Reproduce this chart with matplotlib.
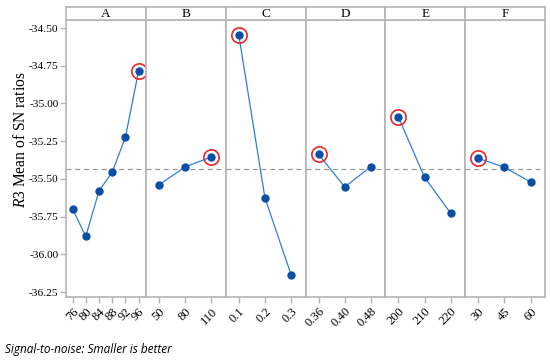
import matplotlib
matplotlib.use("Agg")
import matplotlib.pyplot as plt
import numpy as np

# ---------------------------------------------------------------------------
# Data
# ---------------------------------------------------------------------------
FACTORS = ["A", "B", "C", "D", "E", "F"]
LEVELS = {
    "A": ["76", "80", "84", "88", "92", "96"],
    "B": ["50", "80", "110"],
    "C": ["0.1", "0.2", "0.3"],
    "D": ["0.36", "0.40", "0.48"],
    "E": ["200", "210", "220"],
    "F": ["30", "45", "60"],
}
SN_A = [-35.70, -35.88, -35.58, -35.455, -35.225, -34.785]
SN_B = [-35.54, -35.42, -35.355]
SN_C = [-34.545, -35.625, -36.135]
SN_D = [-35.337, -35.553, -35.418]
SN_E = [-35.09, -35.49, -35.728]
SN_F = [-35.363, -35.423, -35.52]
VALUES = {"A": SN_A, "B": SN_B, "C": SN_C, "D": SN_D, "E": SN_E, "F": SN_F}
Y_TICKS = [-34.50, -34.75, -35.00, -35.25, -35.50, -35.75, -36.00, -36.25]

GRAY = "#b4b4b4"
LINE = "#2f7fd6"
DOT = "#0b4ea6"

plt.rcParams["font.family"] = ["Liberation Serif", "DejaVu Serif"]
plt.rcParams["mathtext.fontset"] = "custom"
plt.rcParams["mathtext.it"] = "Liberation Serif:italic"
plt.rcParams["mathtext.rm"] = "Liberation Serif"

fig = plt.figure(figsize=(5.5, 3.61), dpi=100)
W, H = 550, 361
left_px, right_px = 66, 545
top_px, bottom_px, head_px = 20, 297, 7
pw = (right_px - left_px) / len(FACTORS)

grand_mean = np.mean(SN_C)
ylim = (-36.282, -34.447)

for i, f in enumerate(FACTORS):
    x0 = left_px + i * pw
    ax = fig.add_axes([x0 / W, 1 - bottom_px / H, pw / W, (bottom_px - top_px) / H])
    vals = VALUES[f]
    n = len(vals)
    xs = np.arange(n)
    ax.axhline(grand_mean, color="#999999", lw=0.9, ls=(0, (4, 3)), zorder=1)
    ax.plot(xs, vals, color=LINE, lw=0.9, zorder=2)
    ax.plot(xs, vals, "o", color=DOT, ms=5, zorder=3)
    best = int(np.argmax(vals))
    ax.plot(xs[best], vals[best], "o", mfc="none", mec="#e8262b", mew=1.2, ms=11, zorder=4)
    ax.set_xlim(-0.5, n - 1 + 0.55)
    ax.set_ylim(*ylim)
    ax.set_xticks(xs)
    ax.set_xticklabels(LEVELS[f], rotation=45, ha="right", rotation_mode="anchor", fontsize=9)
    for s in ax.spines.values():
        s.set_color(GRAY)
        s.set_linewidth(1.2)
    ax.tick_params(axis="x", colors=GRAY, labelcolor="black", length=4, width=1, pad=2)
    if i == 0:
        ax.set_yticks(Y_TICKS)
        ax.set_yticklabels([f"{v:.2f}" for v in Y_TICKS], fontsize=8.2)
        ax.tick_params(axis="y", colors=GRAY, labelcolor="black", length=4, width=1, pad=1.5)
    else:
        ax.set_yticks([])

    # strip header
    hx = fig.add_axes([x0 / W, 1 - top_px / H, pw / W, (top_px - head_px) / H])
    hx.set_xticks([])
    hx.set_yticks([])
    for s in hx.spines.values():
        s.set_color(GRAY)
        s.set_linewidth(1.2)
    hx.text(0.5, 0.45, f, ha="center", va="center", fontsize=9.5, transform=hx.transAxes)

fig.text(21 / W, 1 - 140 / H, r"$\it{R3}$ Mean of SN ratios", rotation=90,
         ha="center", va="center", fontsize=11.2)

fig.text(5 / W, 1 - 350 / H, "Signal-to-noise: Smaller is better", ha="left", va="center",
         fontsize=8.5, style="italic", family=["Open Sans", "DejaVu Sans"])

fig.savefig("out.png", dpi=100)
